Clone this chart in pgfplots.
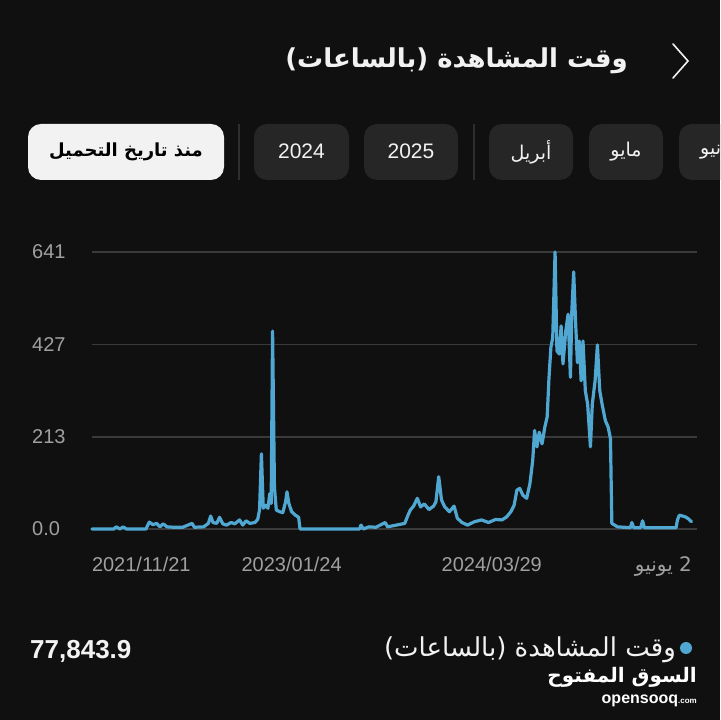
\documentclass[border=0pt]{standalone}
\usepackage{pgfplots}
\pgfplotsset{compat=1.18}
\usepackage{fontspec}
\setmainfont{Liberation Sans}
\newfontfamily\arabicfont[Script=Arabic]{DejaVu Sans}
\TeXXeTstate=1
\definecolor{bg}{HTML}{101010}
\definecolor{btndark}{HTML}{262626}
\definecolor{btnlight}{HTML}{F2F2F2}
\definecolor{sepc}{HTML}{2E2E2E}
\definecolor{gridc}{HTML}{3A3A3A}
\definecolor{linec}{RGB}{80,168,210}
\definecolor{tickc}{HTML}{A0A0A0}
\definecolor{txtw}{HTML}{F2F2F2}
\newcommand{\fs}[1]{\fontsize{#1bp}{#1bp}\selectfont}
\pgfplotstableread{
day val
0 0
47 0
52 5
60 0
67 5
74 0
116 0
123 16
131 10
139 13
146 5
153 12
161 5
176 4
195 4
215 13
220 4
240 5
250 13
255 30
260 15
268 13
274 27
281 12
289 9
299 15
307 12
317 21
324 9
331 19
339 13
350 15
356 22
360 44
364 174
368 48
373 55
378 48
382 82
385 59
388 458
392 97
396 44
403 40
410 38
416 63
419 86
423 59
429 40
437 32
444 27
447 0
575 0
578 9
583 0
595 5
610 4
630 15
635 5
654 9
672 13
679 32
684 44
691 53
699 71
706 51
714 58
724 45
734 53
739 63
745 121
751 67
758 51
768 40
778 53
785 25
795 15
807 9
822 17
837 21
852 15
867 22
881 21
891 28
900 40
907 55
913 90
919 94
926 78
934 71
941 105
947 159
951 228
956 190
961 224
967 197
973 236
978 259
982 351
986 420
990 443
995 641
999 412
1004 405
1008 470
1012 382
1018 458
1023 497
1028 351
1031 504
1035 595
1039 481
1043 385
1047 435
1051 343
1055 435
1060 320
1065 289
1071 190
1075 289
1081 343
1086 426
1091 320
1096 289
1103 251
1109 236
1114 209
1117 13
1129 5
1157 3
1160 15
1164 3
1179 3
1183 19
1187 3
1216 3
1255 3
1258 21
1262 32
1269 30
1275 28
1281 24
1288 17
}\watchtime
\begin{document}
\begin{tikzpicture}[x=1bp,y=1bp]
\useasboundingbox (0,0) rectangle (720,720);
\clip (0,0) rectangle (720,720);
\fill[bg] (0,0) rectangle (720,720);
% title
\node[anchor=base east, inner sep=0pt, text=txtw] at (628,652)
  {\arabicfont\bfseries\fs{26}\beginR وقت المشاهدة (بالساعات)\endR};
\draw[txtw, line width=1.6bp, line cap=round, line join=miter] (673,676) -- (688,659) -- (673,642);
% buttons
\fill[btnlight, rounded corners=13bp] (28,540) rectangle (224,596);
\node[inner sep=0pt, text=black] at (126,568) {\arabicfont\bfseries\fs{18}\beginR منذ تاريخ التحميل\endR};
\draw[sepc, line width=1.5bp] (239,540) -- (239,596);
\fill[btndark, rounded corners=13bp] (254,540) rectangle (349,596);
\node[anchor=base, inner sep=0pt, text=txtw] at (301.5,561) {\fs{21}2024};
\fill[btndark, rounded corners=13bp] (364,540) rectangle (458,596);
\node[anchor=base, inner sep=0pt, text=txtw] at (411,561) {\fs{21}2025};
\draw[sepc, line width=1.5bp] (474,540) -- (474,596);
\fill[btndark, rounded corners=13bp] (489,540) rectangle (573,596);
\node[inner sep=0pt, text=txtw] at (531,568) {\arabicfont\fs{19}\beginR أبريل\endR};
\fill[btndark, rounded corners=13bp] (589,540) rectangle (663,596);
\node[inner sep=0pt, text=txtw] at (626,568) {\arabicfont\fs{19}\beginR مايو\endR};
\fill[btndark, rounded corners=13bp] (679,540) rectangle (790,596);
\node[anchor=west, inner sep=0pt, text=txtw] at (700,568) {\arabicfont\fs{19}\beginR يونيو\endR};
% chart
\begin{axis}[
  at={(92bp,191bp)}, anchor=south west,
  scale only axis, width=605bp, height=277bp,
  xmin=0, xmax=1300, ymin=0, ymax=641,
  clip=false,
  axis line style={draw=none},
  major tick style={draw=none},
  ymajorgrids, grid style={color=gridc, line width=1.3bp},
  ytick={0,213,427,641},
  yticklabels={0.0,213,427,641},
  yticklabel style={anchor=base west, inner sep=0pt, xshift=-60bp, yshift=-7bp, text=tickc, font=\fs{20}},
  xtick={0,429,859,1289},
  xticklabels={\makebox[0pt][l]{2021/11/21},2023/01/24,2024/03/29,\makebox[0pt][r]{\arabicfont\beginR 2 يونيو\endR}},
  xticklabel style={anchor=base, inner sep=0pt, yshift=-43bp, text=tickc, font=\fs{20}},
  /pgf/number format/assume math mode=true,
]
\addplot[linec, line width=3.2bp, line join=round, line cap=round] table[x=day, y=val] {\watchtime};
\end{axis}
% bottom summary
\node[anchor=base west, inner sep=0pt, text=txtw] at (30,61) {\fs{26}\bfseries 77,843.9};
\node[anchor=base east, inner sep=0pt, text=txtw] at (676,63) {\arabicfont\fs{26}\beginR وقت المشاهدة (بالساعات)\endR};
\fill[linec] (686,72) circle (6);
% watermark
\node[anchor=base east, inner sep=0pt, text=white] at (697,37) {\arabicfont\bfseries\fs{20}\beginR السوق المفتوح\endR};
\node[anchor=base east, inner sep=0pt, text=white] at (697,16) {\fs{16}\bfseries opensooq{\fs{8}.com}};
\end{tikzpicture}
\end{document}
